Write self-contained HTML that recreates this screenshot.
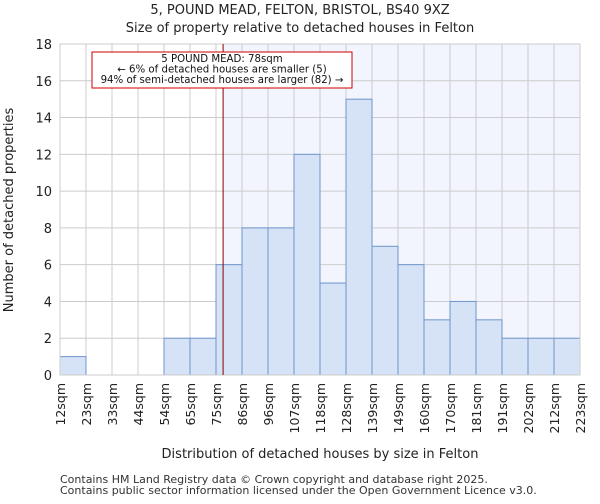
<!DOCTYPE html>
<html><head><meta charset="utf-8"><style>
body{margin:0;background:#fff;font-family:"DejaVu Sans","Liberation Sans",sans-serif}
</style></head><body>
<svg width="600" height="500" xmlns="http://www.w3.org/2000/svg" font-family="DejaVu Sans, Liberation Sans, sans-serif">
<g id="root"></g>
</svg>
<script>
const binLabels=["12sqm","23sqm","33sqm","44sqm","54sqm","65sqm","75sqm","86sqm","96sqm","107sqm","118sqm","128sqm","139sqm","149sqm","160sqm","170sqm","181sqm","191sqm","202sqm","212sqm","223sqm"];
const binEdges=[12,23,33,44,54,65,75,86,96,107,118,128,139,149,160,170,181,191,202,212,223];
const counts=[1,0,0,0,2,2,6,8,8,12,5,15,7,6,3,4,3,2,2,2];
const yTicks=[0,2,4,6,8,10,12,14,16,18];
const subjectSize=78;
const L=60,R=580,T=44,B=375,yMax=18;
const svg=document.getElementById('root');
const NS='http://www.w3.org/2000/svg';
const bw=(R-L)/counts.length;
function y(v){return B-(v/yMax)*(B-T);}
function xIdx(i){return L+i*bw;}
function xVal(v){for(let i=0;i<binEdges.length-1;i++){if(v<=binEdges[i+1])return xIdx(i)+(v-binEdges[i])/(binEdges[i+1]-binEdges[i])*bw;}return R;}
function mk(tag,attrs,text){const e=document.createElementNS(NS,tag);for(const k in attrs)e.setAttribute(k,attrs[k]);if(text!==undefined)e.textContent=text;svg.appendChild(e);return e;}
const sx=xVal(subjectSize);
let e=mk('rect',{x:sx,y:T,width:R-sx,height:B-T,fill:'#f2f5fd'});


yTicks.forEach(t=>{const g=mk('line',{x1:L,x2:R,y1:y(t),y2:y(t),stroke:'#cccccc'});

});
binEdges.forEach((v,i)=>{const g=mk('line',{x1:xIdx(i),x2:xIdx(i),y1:T,y2:B,stroke:'#cccccc'});

});
counts.forEach((c,i)=>{if(c<=0)return;const r=mk('rect',{x:xIdx(i),y:y(c),width:bw,height:B-y(c),fill:'#d6e2f5',stroke:'#6f95cc','stroke-width':1});

});
e=mk('rect',{x:L,y:T,width:R-L,height:B-T,fill:'none',stroke:'#cccccc'});


yTicks.forEach(t=>{const tx=mk('text',{x:L-8,y:y(t)+5,'text-anchor':'end','font-size':13,fill:'#222'},t);

});
binLabels.forEach((lab,i)=>{const px=xIdx(i);const tx=mk('text',{x:px+5,y:B+8,'text-anchor':'end','font-size':12.5,fill:'#222',transform:`rotate(-90 ${px+5} ${B+8})`},lab);

});
e=mk('line',{x1:sx,x2:sx,y1:T,y2:B,stroke:'#880000','stroke-width':1});


e=mk('rect',{x:92,y:52,width:260,height:36,fill:'#fff',stroke:'#cc0000'});


["5 POUND MEAD: 78sqm","← 6% of detached houses are smaller (5)","94% of semi-detached houses are larger (82) →"].forEach((s,i)=>{const tx=mk('text',{x:222,y:62+i*10.5,'text-anchor':'middle','font-size':10.2,fill:'#111'},s);

});
e=mk('text',{x:300,y:14,'text-anchor':'middle','font-size':13,fill:'#222'},"5, POUND MEAD, FELTON, BRISTOL, BS40 9XZ");


e=mk('text',{x:300,y:32,'text-anchor':'middle','font-size':13,fill:'#222'},"Size of property relative to detached houses in Felton");


e=mk('text',{x:320,y:458,'text-anchor':'middle','font-size':13,fill:'#222'},"Distribution of detached houses by size in Felton");


e=mk('text',{x:13,y:210,'text-anchor':'middle','font-size':13,fill:'#222',transform:'rotate(-90 13 210)'},"Number of detached properties");


e=mk('text',{x:60,y:483,'font-size':11,fill:'#333'},"Contains HM Land Registry data © Crown copyright and database right 2025.");


e=mk('text',{x:60,y:494,'font-size':11,fill:'#333'},"Contains public sector information licensed under the Open Government Licence v3.0.");


</script>
</body></html>
